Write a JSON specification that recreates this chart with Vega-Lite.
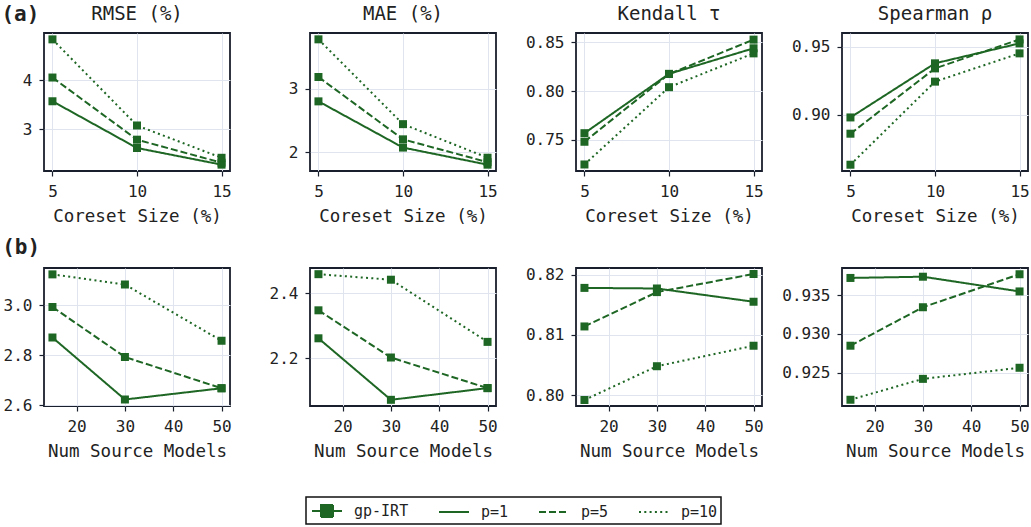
{
  "$schema": "https://vega.github.io/schema/vega-lite/v6.json",
  "padding": {"left": 1, "top": 4, "right": 3, "bottom": 0},
  "background": "white",
  "config": {
    "font": "DejaVu Sans Mono",
    "view": {"stroke": "#1a1f2d", "strokeWidth": 1.8},
    "axis": {"grid": true, "gridColor": "#dfe4ee", "gridWidth": 1, "domain": false, "tickColor": "#1a1f2d", "tickSize": 5, "tickWidth": 1.2, "labelFontSize": 16, "titleFontSize": 17.5, "labelColor": "#222222", "titleColor": "#222222", "titleFontWeight": "normal", "labelPadding": 7, "titlePadding": 8},
    "title": {"fontSize": 19, "fontWeight": "normal", "color": "#222222", "offset": 9},
    "legend": {"strokeWidth": 1.5}
  },
  "datasets": {
    "d": [
      {"r":"a","m":"RMSE","x":5,"p":"p=1","v":3.575},{"r":"a","m":"RMSE","x":5,"p":"p=5","v":4.06},{"r":"a","m":"RMSE","x":5,"p":"p=10","v":4.84},
      {"r":"a","m":"RMSE","x":10,"p":"p=1","v":2.62},{"r":"a","m":"RMSE","x":10,"p":"p=5","v":2.79},{"r":"a","m":"RMSE","x":10,"p":"p=10","v":3.08},
      {"r":"a","m":"RMSE","x":15,"p":"p=1","v":2.28},{"r":"a","m":"RMSE","x":15,"p":"p=5","v":2.32},{"r":"a","m":"RMSE","x":15,"p":"p=10","v":2.42},
      {"r":"a","m":"MAE","x":5,"p":"p=1","v":2.80},{"r":"a","m":"MAE","x":5,"p":"p=5","v":3.185},{"r":"a","m":"MAE","x":5,"p":"p=10","v":3.78},
      {"r":"a","m":"MAE","x":10,"p":"p=1","v":2.07},{"r":"a","m":"MAE","x":10,"p":"p=5","v":2.20},{"r":"a","m":"MAE","x":10,"p":"p=10","v":2.44},
      {"r":"a","m":"MAE","x":15,"p":"p=1","v":1.80},{"r":"a","m":"MAE","x":15,"p":"p=5","v":1.84},{"r":"a","m":"MAE","x":15,"p":"p=10","v":1.91},
      {"r":"a","m":"K","x":5,"p":"p=1","v":0.7568},{"r":"a","m":"K","x":5,"p":"p=5","v":0.748},{"r":"a","m":"K","x":5,"p":"p=10","v":0.7247},
      {"r":"a","m":"K","x":10,"p":"p=1","v":0.8177},{"r":"a","m":"K","x":10,"p":"p=5","v":0.8175},{"r":"a","m":"K","x":10,"p":"p=10","v":0.804},
      {"r":"a","m":"K","x":15,"p":"p=1","v":0.8439},{"r":"a","m":"K","x":15,"p":"p=5","v":0.8528},{"r":"a","m":"K","x":15,"p":"p=10","v":0.8387},
      {"r":"a","m":"S","x":5,"p":"p=1","v":0.8982},{"r":"a","m":"S","x":5,"p":"p=5","v":0.8863},{"r":"a","m":"S","x":5,"p":"p=10","v":0.8636},
      {"r":"a","m":"S","x":10,"p":"p=1","v":0.9378},{"r":"a","m":"S","x":10,"p":"p=5","v":0.9341},{"r":"a","m":"S","x":10,"p":"p=10","v":0.9244},
      {"r":"a","m":"S","x":15,"p":"p=1","v":0.9524},{"r":"a","m":"S","x":15,"p":"p=5","v":0.9553},{"r":"a","m":"S","x":15,"p":"p=10","v":0.9451},
      {"r":"b","m":"RMSE","x":15,"p":"p=1","v":2.871},{"r":"b","m":"RMSE","x":15,"p":"p=5","v":2.993},{"r":"b","m":"RMSE","x":15,"p":"p=10","v":3.1235},
      {"r":"b","m":"RMSE","x":30,"p":"p=1","v":2.623},{"r":"b","m":"RMSE","x":30,"p":"p=5","v":2.793},{"r":"b","m":"RMSE","x":30,"p":"p=10","v":3.083},
      {"r":"b","m":"RMSE","x":50,"p":"p=1","v":2.668},{"r":"b","m":"RMSE","x":50,"p":"p=5","v":2.668},{"r":"b","m":"RMSE","x":50,"p":"p=10","v":2.858},
      {"r":"b","m":"MAE","x":15,"p":"p=1","v":2.262},{"r":"b","m":"MAE","x":15,"p":"p=5","v":2.348},{"r":"b","m":"MAE","x":15,"p":"p=10","v":2.459},
      {"r":"b","m":"MAE","x":30,"p":"p=1","v":2.073},{"r":"b","m":"MAE","x":30,"p":"p=5","v":2.203},{"r":"b","m":"MAE","x":30,"p":"p=10","v":2.442},
      {"r":"b","m":"MAE","x":50,"p":"p=1","v":2.109},{"r":"b","m":"MAE","x":50,"p":"p=5","v":2.109},{"r":"b","m":"MAE","x":50,"p":"p=10","v":2.251},
      {"r":"b","m":"K","x":15,"p":"p=1","v":0.8178},{"r":"b","m":"K","x":15,"p":"p=5","v":0.8114},{"r":"b","m":"K","x":15,"p":"p=10","v":0.7992},
      {"r":"b","m":"K","x":30,"p":"p=1","v":0.8177},{"r":"b","m":"K","x":30,"p":"p=5","v":0.8171},{"r":"b","m":"K","x":30,"p":"p=10","v":0.8048},
      {"r":"b","m":"K","x":50,"p":"p=1","v":0.8155},{"r":"b","m":"K","x":50,"p":"p=5","v":0.8201},{"r":"b","m":"K","x":50,"p":"p=10","v":0.8082},
      {"r":"b","m":"S","x":15,"p":"p=1","v":0.93727},{"r":"b","m":"S","x":15,"p":"p=5","v":0.92848},{"r":"b","m":"S","x":15,"p":"p=10","v":0.92147},
      {"r":"b","m":"S","x":30,"p":"p=1","v":0.93743},{"r":"b","m":"S","x":30,"p":"p=5","v":0.93347},{"r":"b","m":"S","x":30,"p":"p=10","v":0.92418},
      {"r":"b","m":"S","x":50,"p":"p=1","v":0.93552},{"r":"b","m":"S","x":50,"p":"p=5","v":0.93775},{"r":"b","m":"S","x":50,"p":"p=10","v":0.92562}
    ]
  },
  "spacing": 10,
  "resolve": {"scale": {"strokeDash": "shared"}, "legend": {"strokeDash": "shared"}},
  "vconcat": [
    {
      "title": {"text": "(a)", "anchor": "start", "frame": "bounds", "fontSize": 21, "fontWeight": "bold", "dy": 30, "dx": -20},
      "bounds": "flush",
      "spacing": 80,
      "resolve": {"scale": {"strokeDash": "shared"}, "legend": {"strokeDash": "shared"}},
      "hconcat": [
        {
          "width": 186, "height": 138, "title": "RMSE (%)", "data": {"name": "d"},
          "transform": [{"filter": "datum.r === 'a' && datum.m === 'RMSE'"}],
          "encoding": {
            "x": {"field": "x", "type": "quantitative", "scale": {"domain": [4.5, 15.5], "nice": false, "zero": false}, "axis": {"values": [5, 10, 15], "title": "Coreset Size (%)"}},
            "y": {"field": "v", "type": "quantitative", "scale": {"domain": [2.15, 4.97], "nice": false, "zero": false}, "axis": {"values": [3, 4], "format": "d", "title": null}}
          },
          "layer": [
            {"mark": {"type": "line", "color": "#1d6623", "strokeWidth": 2}, "encoding": {"strokeDash": {"field": "p", "type": "nominal", "scale": {"domain": ["gp-IRT", "p=1", "p=5", "p=10"], "range": [[1, 0], [1, 0], [7, 3], [2, 3.3]]}, "legend": {"orient": "none", "legendX": 262, "legendY": 464, "direction": "horizontal", "columns": 4, "title": null, "strokeColor": "#111111", "padding": 3, "columnPadding": 26, "symbolSize": 400, "symbolStrokeWidth": 2, "symbolStrokeColor": "#1d6623", "labelFontSize": 15, "labelOffset": 23, "labelColor": "#222222", "symbolType": "M-0.8,0H2.2", "encode": {"symbols": {"update": {"shape": [{"test": "datum.value === 'gp-IRT'", "value": "M-0.8,0H2.2M0.1,-0.6H1.3V0.6H0.1Z"}, {"value": "M-0.8,0H2.2"}], "fill": [{"test": "datum.value === 'gp-IRT'", "value": "#1d6623"}, {"value": "transparent"}], "stroke": {"value": "#1d6623"}, "strokeWidth": {"value": 2}, "strokeDash": {"scale": "strokeDash", "field": "value"}, "opacity": {"value": 1}}}}}}}},
            {"mark": {"type": "square", "color": "#1d6623", "filled": true, "opacity": 1, "size": 64}}
          ]
        },
        {
          "width": 186, "height": 138, "title": "MAE (%)", "data": {"name": "d"},
          "transform": [{"filter": "datum.r === 'a' && datum.m === 'MAE'"}],
          "encoding": {
            "x": {"field": "x", "type": "quantitative", "scale": {"domain": [4.5, 15.5], "nice": false, "zero": false}, "axis": {"values": [5, 10, 15], "title": "Coreset Size (%)"}},
            "y": {"field": "v", "type": "quantitative", "scale": {"domain": [1.70, 3.88], "nice": false, "zero": false}, "axis": {"values": [2, 3], "format": "d", "title": null}}
          },
          "layer": [
            {"mark": {"type": "line", "color": "#1d6623", "strokeWidth": 2}, "encoding": {"strokeDash": {"field": "p", "type": "nominal", "scale": {"domain": ["gp-IRT", "p=1", "p=5", "p=10"], "range": [[1, 0], [1, 0], [7, 3], [2, 3.3]]}}}},
            {"mark": {"type": "square", "color": "#1d6623", "filled": true, "opacity": 1, "size": 64}}
          ]
        },
        {
          "width": 186, "height": 138, "title": "Kendall τ", "data": {"name": "d"},
          "transform": [{"filter": "datum.r === 'a' && datum.m === 'K'"}],
          "encoding": {
            "x": {"field": "x", "type": "quantitative", "scale": {"domain": [4.5, 15.5], "nice": false, "zero": false}, "axis": {"values": [5, 10, 15], "title": "Coreset Size (%)"}},
            "y": {"field": "v", "type": "quantitative", "scale": {"domain": [0.718, 0.8596], "nice": false, "zero": false}, "axis": {"values": [0.75, 0.80, 0.85], "format": ".2f", "title": null}}
          },
          "layer": [
            {"mark": {"type": "line", "color": "#1d6623", "strokeWidth": 2}, "encoding": {"strokeDash": {"field": "p", "type": "nominal", "scale": {"domain": ["gp-IRT", "p=1", "p=5", "p=10"], "range": [[1, 0], [1, 0], [7, 3], [2, 3.3]]}}}},
            {"mark": {"type": "square", "color": "#1d6623", "filled": true, "opacity": 1, "size": 64}}
          ]
        },
        {
          "width": 186, "height": 138, "title": "Spearman ρ", "data": {"name": "d"},
          "transform": [{"filter": "datum.r === 'a' && datum.m === 'S'"}],
          "encoding": {
            "x": {"field": "x", "type": "quantitative", "scale": {"domain": [4.5, 15.5], "nice": false, "zero": false}, "axis": {"values": [5, 10, 15], "title": "Coreset Size (%)"}},
            "y": {"field": "v", "type": "quantitative", "scale": {"domain": [0.859, 0.960], "nice": false, "zero": false}, "axis": {"values": [0.90, 0.95], "format": ".2f", "title": null}}
          },
          "layer": [
            {"mark": {"type": "line", "color": "#1d6623", "strokeWidth": 2}, "encoding": {"strokeDash": {"field": "p", "type": "nominal", "scale": {"domain": ["gp-IRT", "p=1", "p=5", "p=10"], "range": [[1, 0], [1, 0], [7, 3], [2, 3.3]]}}}},
            {"mark": {"type": "square", "color": "#1d6623", "filled": true, "opacity": 1, "size": 64}}
          ]
        }
      ]
    },
    {
      "title": {"text": "(b)", "anchor": "start", "frame": "bounds", "fontSize": 21, "fontWeight": "bold", "offset": 8},
      "bounds": "flush",
      "spacing": 80,
      "resolve": {"scale": {"strokeDash": "shared"}, "legend": {"strokeDash": "shared"}},
      "hconcat": [
        {
          "width": 186, "height": 138, "data": {"name": "d"},
          "transform": [{"filter": "datum.r === 'b' && datum.m === 'RMSE'"}],
          "encoding": {
            "x": {"field": "x", "type": "quantitative", "scale": {"domain": [13.25, 51.75], "nice": false, "zero": false}, "axis": {"values": [20, 30, 40, 50], "title": "Num Source Models"}},
            "y": {"field": "v", "type": "quantitative", "scale": {"domain": [2.597, 3.149], "nice": false, "zero": false}, "axis": {"values": [2.6, 2.8, 3.0], "format": ".1f", "title": null}}
          },
          "layer": [
            {"mark": {"type": "line", "color": "#1d6623", "strokeWidth": 2}, "encoding": {"strokeDash": {"field": "p", "type": "nominal", "scale": {"domain": ["gp-IRT", "p=1", "p=5", "p=10"], "range": [[1, 0], [1, 0], [7, 3], [2, 3.3]]}}}},
            {"mark": {"type": "square", "color": "#1d6623", "filled": true, "opacity": 1, "size": 64}}
          ]
        },
        {
          "width": 186, "height": 138, "data": {"name": "d"},
          "transform": [{"filter": "datum.r === 'b' && datum.m === 'MAE'"}],
          "encoding": {
            "x": {"field": "x", "type": "quantitative", "scale": {"domain": [13.25, 51.75], "nice": false, "zero": false}, "axis": {"values": [20, 30, 40, 50], "title": "Num Source Models"}},
            "y": {"field": "v", "type": "quantitative", "scale": {"domain": [2.054, 2.478], "nice": false, "zero": false}, "axis": {"values": [2.2, 2.4], "format": ".1f", "title": null}}
          },
          "layer": [
            {"mark": {"type": "line", "color": "#1d6623", "strokeWidth": 2}, "encoding": {"strokeDash": {"field": "p", "type": "nominal", "scale": {"domain": ["gp-IRT", "p=1", "p=5", "p=10"], "range": [[1, 0], [1, 0], [7, 3], [2, 3.3]]}}}},
            {"mark": {"type": "square", "color": "#1d6623", "filled": true, "opacity": 1, "size": 64}}
          ]
        },
        {
          "width": 186, "height": 138, "data": {"name": "d"},
          "transform": [{"filter": "datum.r === 'b' && datum.m === 'K'"}],
          "encoding": {
            "x": {"field": "x", "type": "quantitative", "scale": {"domain": [13.25, 51.75], "nice": false, "zero": false}, "axis": {"values": [20, 30, 40, 50], "title": "Num Source Models"}},
            "y": {"field": "v", "type": "quantitative", "scale": {"domain": [0.7982, 0.8211], "nice": false, "zero": false}, "axis": {"values": [0.80, 0.81, 0.82], "format": ".2f", "title": null}}
          },
          "layer": [
            {"mark": {"type": "line", "color": "#1d6623", "strokeWidth": 2}, "encoding": {"strokeDash": {"field": "p", "type": "nominal", "scale": {"domain": ["gp-IRT", "p=1", "p=5", "p=10"], "range": [[1, 0], [1, 0], [7, 3], [2, 3.3]]}}}},
            {"mark": {"type": "square", "color": "#1d6623", "filled": true, "opacity": 1, "size": 64}}
          ]
        },
        {
          "width": 186, "height": 138, "data": {"name": "d"},
          "transform": [{"filter": "datum.r === 'b' && datum.m === 'S'"}],
          "encoding": {
            "x": {"field": "x", "type": "quantitative", "scale": {"domain": [13.25, 51.75], "nice": false, "zero": false}, "axis": {"values": [20, 30, 40, 50], "title": "Num Source Models"}},
            "y": {"field": "v", "type": "quantitative", "scale": {"domain": [0.92066, 0.93856], "nice": false, "zero": false}, "axis": {"values": [0.925, 0.930, 0.935], "format": ".3f", "title": null}}
          },
          "layer": [
            {"mark": {"type": "line", "color": "#1d6623", "strokeWidth": 2}, "encoding": {"strokeDash": {"field": "p", "type": "nominal", "scale": {"domain": ["gp-IRT", "p=1", "p=5", "p=10"], "range": [[1, 0], [1, 0], [7, 3], [2, 3.3]]}}}},
            {"mark": {"type": "square", "color": "#1d6623", "filled": true, "opacity": 1, "size": 64}}
          ]
        }
      ]
    }
  ]
}
